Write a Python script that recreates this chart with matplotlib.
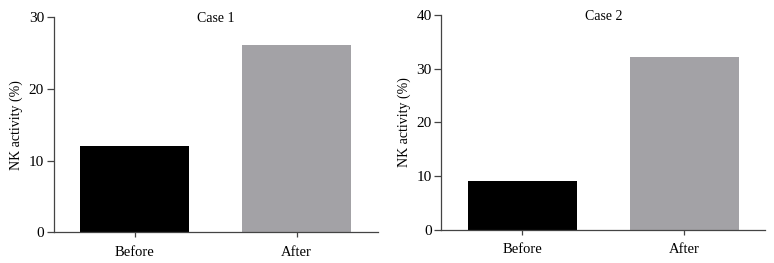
import matplotlib
matplotlib.use("Agg")
import matplotlib.pyplot as plt

# data
groups = ["Before", "After"]
case1 = [12.0, 26.2]
case2 = [9.0, 32.1]
titles = ["Case 1", "Case 2"]
ylims = [30, 40]
yticks = [[0, 10, 20, 30], [0, 10, 20, 30, 40]]

colors = ["#000000", "#a3a2a6"]

plt.rcParams["font.family"] = ["Liberation Serif", "DejaVu Serif"]

fig = plt.figure(figsize=(7.74, 2.63), dpi=100)
# axes boxes in figure fractions (left, bottom, width, height)
boxes = [(53.7 / 774, 1 - 232.3 / 263, 324 / 774, 215 / 263),
         (441.3 / 774, 1 - 229.7 / 263, 324 / 774, 214.7 / 263)]

for box, vals, title, ymax, ticks in zip(boxes, [case1, case2], titles, ylims, yticks):
    ax = fig.add_axes(box)
    ax.bar(range(len(groups)), vals, width=0.67, color=colors)
    ax.set_xlim(-0.5, 1.5)
    ax.set_ylim(0, ymax)
    ax.set_xticks(range(len(groups)))
    ax.set_xticklabels(groups)
    ax.set_yticks(ticks)
    ax.set_ylabel("NK activity (%)", fontsize=10, labelpad=4)
    ax.text(0.5, 1.0, title, transform=ax.transAxes, ha="center", va="center_baseline",
            fontsize=10)
    for side in ["top", "right"]:
        ax.spines[side].set_visible(False)
    for side in ["left", "bottom"]:
        ax.spines[side].set_color("#444444")
        ax.spines[side].set_linewidth(0.9)
    ax.tick_params(axis="y", direction="out", length=5, width=0.9, color="#444444",
                   labelsize=11, pad=2)
    ax.tick_params(axis="x", direction="out", length=3.8, width=0.9, color="#444444",
                   labelsize=10.5, pad=6)

fig.savefig("out.png", dpi=100)
